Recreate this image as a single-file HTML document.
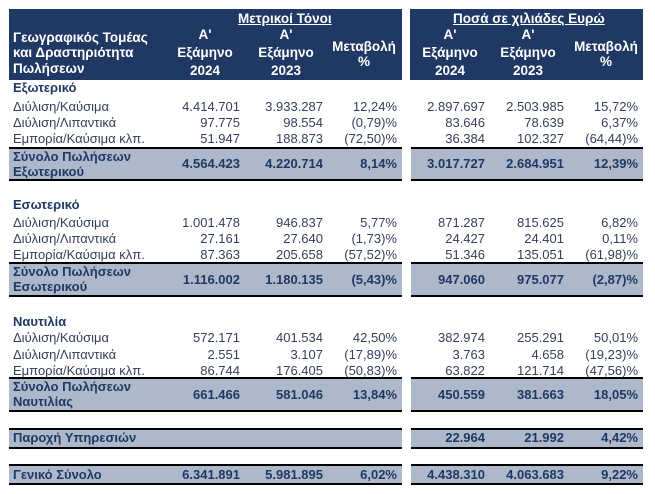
<!DOCTYPE html>
<html><head><meta charset="utf-8">
<style>
html,body{margin:0;padding:0;background:#fff;}
#c{position:relative;width:655px;height:494px;overflow:hidden;background:#fff;font-family:"Liberation Sans","DejaVu Sans",sans-serif;}
.box{position:absolute;}
.nv{background:#203864;}
.sb{background:#adb9ca;border-top:2px solid #000;border-bottom:2px solid #000;box-sizing:border-box;}
.t{position:absolute;line-height:16px;font-size:13px;white-space:nowrap;color:#343f5b;}
.h{color:#fff;font-weight:bold;font-size:13.5px;}
.c{text-align:center;width:100px;}
.b{font-weight:bold;color:#1f3864;}
.u{text-decoration:underline;}
</style></head><body><div id="c">
<div class="box nv" style="left:9px;top:9px;width:393px;height:71px"></div>
<div class="box nv" style="left:410px;top:9px;width:233px;height:71px"></div>

<div class="t h u" style="left:238px;top:11px">Μετρικοί Τόνοι</div>
<div class="t h u" style="left:453px;top:11px">Ποσά σε χιλιάδες Ευρώ</div>

<div class="t h" style="left:13px;top:30px">Γεωγραφικός Τομέας</div>
<div class="t h" style="left:13px;top:45px">και Δραστηριότητα</div>
<div class="t h" style="left:13px;top:61px">Πωλήσεων</div>

<div class="t h c" style="left:155px;top:27px">Α'</div>
<div class="t h c" style="left:155px;top:45px">Εξάμηνο</div>
<div class="t h c" style="left:155px;top:63px">2024</div>
<div class="t h c" style="left:236px;top:27px">Α'</div>
<div class="t h c" style="left:236px;top:45px">Εξάμηνο</div>
<div class="t h c" style="left:236px;top:63px">2023</div>
<div class="t h c" style="left:314px;top:39px">Μεταβολή</div>
<div class="t h c" style="left:314px;top:54px">%</div>

<div class="t h c" style="left:400px;top:27px">Α'</div>
<div class="t h c" style="left:400px;top:45px">Εξάμηνο</div>
<div class="t h c" style="left:400px;top:63px">2024</div>
<div class="t h c" style="left:478px;top:27px">Α'</div>
<div class="t h c" style="left:478px;top:45px">Εξάμηνο</div>
<div class="t h c" style="left:478px;top:63px">2023</div>
<div class="t h c" style="left:556px;top:39px">Μεταβολή</div>
<div class="t h c" style="left:556px;top:54px">%</div>

<div class="box sb" style="left:9px;top:147px;width:393px;height:34px"></div>
<div class="box sb" style="left:411px;top:147px;width:232px;height:34px"></div>
<div class="box sb" style="left:9px;top:262px;width:393px;height:35px"></div>
<div class="box sb" style="left:411px;top:262px;width:232px;height:35px"></div>
<div class="box sb" style="left:9px;top:377px;width:393px;height:35px"></div>
<div class="box sb" style="left:411px;top:377px;width:232px;height:35px"></div>
<div class="box sb" style="left:9px;top:428px;width:393px;height:21px"></div>
<div class="box sb" style="left:411px;top:428px;width:232px;height:21px"></div>
<div class="box sb" style="left:9px;top:464px;width:393px;height:21px"></div>
<div class="box sb" style="left:411px;top:464px;width:232px;height:21px"></div>

<div class="t b" style="left:13px;top:80px">Εξωτερικό</div>
<div class="t" style="left:13px;top:99px">Διύλιση/Καύσιμα</div>
<div class="t" style="right:415px;top:99px">4.414.701</div>
<div class="t" style="right:332px;top:99px">3.933.287</div>
<div class="t" style="right:258px;top:99px">12,24%</div>
<div class="t" style="right:170px;top:99px">2.897.697</div>
<div class="t" style="right:91px;top:99px">2.503.985</div>
<div class="t" style="right:17px;top:99px">15,72%</div>

<div class="t" style="left:13px;top:115px">Διύλιση/Λιπαντικά</div>
<div class="t" style="right:415px;top:115px">97.775</div>
<div class="t" style="right:332px;top:115px">98.554</div>
<div class="t" style="right:258px;top:115px">(0,79)%</div>
<div class="t" style="right:170px;top:115px">83.646</div>
<div class="t" style="right:91px;top:115px">78.639</div>
<div class="t" style="right:17px;top:115px">6,37%</div>

<div class="t" style="left:13px;top:131px">Εμπορία/Καύσιμα κλπ.</div>
<div class="t" style="right:415px;top:131px">51.947</div>
<div class="t" style="right:332px;top:131px">188.873</div>
<div class="t" style="right:258px;top:131px">(72,50)%</div>
<div class="t" style="right:170px;top:131px">36.384</div>
<div class="t" style="right:91px;top:131px">102.327</div>
<div class="t" style="right:17px;top:131px">(64,44)%</div>

<div class="t b" style="left:13px;top:149px">Σύνολο Πωλήσεων</div>
<div class="t b" style="left:13px;top:164px">Εξωτερικού</div>
<div class="t b" style="right:415px;top:156px">4.564.423</div>
<div class="t b" style="right:332px;top:156px">4.220.714</div>
<div class="t b" style="right:258px;top:156px">8,14%</div>
<div class="t b" style="right:170px;top:156px">3.017.727</div>
<div class="t b" style="right:91px;top:156px">2.684.951</div>
<div class="t b" style="right:17px;top:156px">12,39%</div>

<div class="t b" style="left:13px;top:197px">Εσωτερικό</div>
<div class="t" style="left:13px;top:215px">Διύλιση/Καύσιμα</div>
<div class="t" style="right:415px;top:215px">1.001.478</div>
<div class="t" style="right:332px;top:215px">946.837</div>
<div class="t" style="right:258px;top:215px">5,77%</div>
<div class="t" style="right:170px;top:215px">871.287</div>
<div class="t" style="right:91px;top:215px">815.625</div>
<div class="t" style="right:17px;top:215px">6,82%</div>

<div class="t" style="left:13px;top:231px">Διύλιση/Λιπαντικά</div>
<div class="t" style="right:415px;top:231px">27.161</div>
<div class="t" style="right:332px;top:231px">27.640</div>
<div class="t" style="right:258px;top:231px">(1,73)%</div>
<div class="t" style="right:170px;top:231px">24.427</div>
<div class="t" style="right:91px;top:231px">24.401</div>
<div class="t" style="right:17px;top:231px">0,11%</div>

<div class="t" style="left:13px;top:247px">Εμπορία/Καύσιμα κλπ.</div>
<div class="t" style="right:415px;top:247px">87.363</div>
<div class="t" style="right:332px;top:247px">205.658</div>
<div class="t" style="right:258px;top:247px">(57,52)%</div>
<div class="t" style="right:170px;top:247px">51.346</div>
<div class="t" style="right:91px;top:247px">135.051</div>
<div class="t" style="right:17px;top:247px">(61,98)%</div>

<div class="t b" style="left:13px;top:264px">Σύνολο Πωλήσεων</div>
<div class="t b" style="left:13px;top:279px">Εσωτερικού</div>
<div class="t b" style="right:415px;top:272px">1.116.002</div>
<div class="t b" style="right:332px;top:272px">1.180.135</div>
<div class="t b" style="right:258px;top:272px">(5,43)%</div>
<div class="t b" style="right:170px;top:272px">947.060</div>
<div class="t b" style="right:91px;top:272px">975.077</div>
<div class="t b" style="right:17px;top:272px">(2,87)%</div>

<div class="t b" style="left:13px;top:314px">Ναυτιλία</div>
<div class="t" style="left:13px;top:330px">Διύλιση/Καύσιμα</div>
<div class="t" style="right:415px;top:330px">572.171</div>
<div class="t" style="right:332px;top:330px">401.534</div>
<div class="t" style="right:258px;top:330px">42,50%</div>
<div class="t" style="right:170px;top:330px">382.974</div>
<div class="t" style="right:91px;top:330px">255.291</div>
<div class="t" style="right:17px;top:330px">50,01%</div>

<div class="t" style="left:13px;top:347px">Διύλιση/Λιπαντικά</div>
<div class="t" style="right:415px;top:347px">2.551</div>
<div class="t" style="right:332px;top:347px">3.107</div>
<div class="t" style="right:258px;top:347px">(17,89)%</div>
<div class="t" style="right:170px;top:347px">3.763</div>
<div class="t" style="right:91px;top:347px">4.658</div>
<div class="t" style="right:17px;top:347px">(19,23)%</div>

<div class="t" style="left:13px;top:363px">Εμπορία/Καύσιμα κλπ.</div>
<div class="t" style="right:415px;top:363px">86.744</div>
<div class="t" style="right:332px;top:363px">176.405</div>
<div class="t" style="right:258px;top:363px">(50,83)%</div>
<div class="t" style="right:170px;top:363px">63.822</div>
<div class="t" style="right:91px;top:363px">121.714</div>
<div class="t" style="right:17px;top:363px">(47,56)%</div>

<div class="t b" style="left:13px;top:379px">Σύνολο Πωλήσεων</div>
<div class="t b" style="left:13px;top:394px">Ναυτιλίας</div>
<div class="t b" style="right:415px;top:387px">661.466</div>
<div class="t b" style="right:332px;top:387px">581.046</div>
<div class="t b" style="right:258px;top:387px">13,84%</div>
<div class="t b" style="right:170px;top:387px">450.559</div>
<div class="t b" style="right:91px;top:387px">381.663</div>
<div class="t b" style="right:17px;top:387px">18,05%</div>

<div class="t b" style="left:13px;top:430px">Παροχή Υπηρεσιών</div>
<div class="t b" style="right:170px;top:430px">22.964</div>
<div class="t b" style="right:91px;top:430px">21.992</div>
<div class="t b" style="right:17px;top:430px">4,42%</div>

<div class="t b" style="left:13px;top:467px">Γενικό Σύνολο</div>
<div class="t b" style="right:415px;top:467px">6.341.891</div>
<div class="t b" style="right:332px;top:467px">5.981.895</div>
<div class="t b" style="right:258px;top:467px">6,02%</div>
<div class="t b" style="right:170px;top:467px">4.438.310</div>
<div class="t b" style="right:91px;top:467px">4.063.683</div>
<div class="t b" style="right:17px;top:467px">9,22%</div>
</div></body></html>
